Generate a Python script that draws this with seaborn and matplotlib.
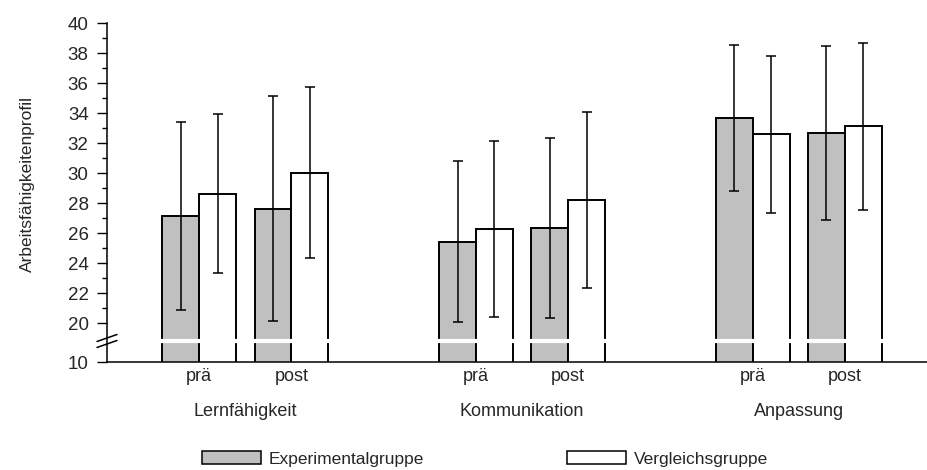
import numpy as np
import pandas as pd
import matplotlib
matplotlib.use("Agg")
import matplotlib.pyplot as plt
from matplotlib.colors import to_rgb
from matplotlib.patches import Patch
from matplotlib.transforms import blended_transform_factory
import seaborn as sns

# --- data -------------------------------------------------------------
bereiche = ["Lernfähigkeit", "Kommunikation", "Anpassung"]
zeitpunkte = ["prä", "post"]
gruppen = ["Experimentalgruppe", "Vergleichsgruppe"]

# means and standard deviations, ordered Lern prä/post, Komm prä/post, Anp prä/post
exp_mittel = [27.15, 27.64, 25.44, 26.35, 33.69, 32.69]
exp_sd = [6.24, 7.51, 5.38, 5.99, 4.87, 5.79]
ver_mittel = [28.64, 30.04, 26.30, 28.20, 32.60, 33.13]
ver_sd = [5.30, 5.71, 5.88, 5.87, 5.24, 5.58]

y_major = [10, 20, 22, 24, 26, 28, 30, 32, 34, 36, 38, 40]
y_minor = [21, 23, 25, 27, 29, 31, 33, 35, 37, 39]

farben = ["#c0c0c0", "#ffffff"]

# --- styling ----------------------------------------------------------
sns.set_style("ticks")
plt.rcParams["font.family"] = ["Liberation Sans", "DejaVu Sans"]

rows = []
for gruppe, mittel, sd in zip(gruppen, (exp_mittel, ver_mittel), (exp_sd, ver_sd)):
    paare = [(b, z) for b in bereiche for z in zeitpunkte]
    for (b, z), m, s in zip(paare, mittel, sd):
        rows.append(dict(Slot=f"{b} {z}", Bereich=b, Zeitpunkt=z,
                         Gruppe=gruppe, Mittelwert=m, SD=s))
df = pd.DataFrame(rows)

# category order with an empty slot between the three areas
order = []
for k, b in enumerate(bereiche):
    if k:
        order.append(" " * k)
    order += [f"{b} {z}" for z in zeitpunkte]

# broken y axis: the span 10..20 is squeezed below the break
BREAK = 20.0
SQUEEZE = 0.26


def fwd(v):
    v = np.asarray(v, dtype=float)
    return np.where(v >= BREAK, v, BREAK - (BREAK - v) * SQUEEZE)


def inv(t):
    t = np.asarray(t, dtype=float)
    return np.where(t >= BREAK, t, BREAK - (BREAK - t) / SQUEEZE)


fig = plt.figure(figsize=(9.27, 4.70), dpi=100)
ax = fig.add_axes([107 / 927, 107.7 / 470, 820 / 927, 339 / 470])

sns.barplot(data=df, x="Slot", y="Mittelwert", hue="Gruppe", order=order,
            hue_order=gruppen, palette=dict(zip(gruppen, farben)),
            edgecolor="black", linewidth=1.4, errorbar=None, legend=False,
            saturation=1, width=0.8, ax=ax)

ax.set_yscale("function", functions=(fwd, inv))

# error bars (± SD) placed on the drawn bars
for gruppe, farbe in zip(gruppen, farben):
    sub = df[df.Gruppe == gruppe].set_index("Slot")
    for p in ax.patches:
        if not np.allclose(p.get_facecolor()[:3], to_rgb(farbe)):
            continue
        xc = p.get_x() + p.get_width() / 2
        slot = order[int(round(xc))]
        if slot not in sub.index:
            continue
        ax.errorbar(xc, sub.loc[slot, "Mittelwert"], yerr=sub.loc[slot, "SD"],
                    fmt="none", ecolor="black", elinewidth=1.1, capsize=3.6,
                    capthick=1.1, zorder=3)

ax.set_ylim(10, 40)
ax.set_xlim(-1, len(order) - 1 + 0.89)

ax.set_yticks(y_major)
ax.set_yticklabels([str(v) for v in y_major])
ax.set_yticks(y_minor, minor=True)
ax.tick_params(axis="y", which="major", length=7.2, width=1.0, pad=6.0,
               labelsize=13.5, direction="out", color="black")
ax.tick_params(axis="y", which="minor", length=3.6, width=1.0,
               direction="out", color="black")

pos = [order.index(f"{b} {z}") for b in bereiche for z in zeitpunkte]
ax.set_xticks(pos, [z for b in bereiche for z in zeitpunkte])
ax.tick_params(axis="x", length=0, pad=4, labelsize=13)
ax.set_xlabel("")

trans = blended_transform_factory(ax.transData, ax.transAxes)
for b in bereiche:
    xs = [order.index(f"{b} {z}") for z in zeitpunkte]
    ax.text(np.mean(xs), -0.158, b, transform=trans, ha="center",
            va="baseline", fontsize=13)

ax.set_ylabel("Arbeitsfähigkeitenprofil", fontsize=12.5)
ax.yaxis.set_label_coords(-0.0878, 0.526)

for side in ("top", "right"):
    ax.spines[side].set_visible(False)
for side in ("left", "bottom"):
    ax.spines[side].set_linewidth(1.1)
    ax.spines[side].set_color("black")

# white gap through the bars and the slashes on the y axis
ax.axhline(15.46, xmin=0.004, xmax=1, color="white", lw=3, zorder=2)
for y0, y1 in ((0.0614, 0.082), (0.0437, 0.0643)):
    ax.plot([-0.0122, 0.0122], [y0, y1], transform=ax.transAxes,
            color="black", lw=1.1, clip_on=False, zorder=4)

# legend: two entries placed side by side under the chart
for gruppe, farbe, x0 in zip(gruppen, farben, (202, 567)):
    h = Patch(facecolor=farbe, edgecolor="black", linewidth=1.1, label=gruppe)
    fig.legend(handles=[h], loc="center left",
               bbox_to_anchor=(x0 / 927, 11 / 470), frameon=False,
               fontsize=12.5, handlelength=3.4, handleheight=0.7,
               handletextpad=0.45, borderpad=0, borderaxespad=0)

fig.savefig("out.png", dpi=100)
